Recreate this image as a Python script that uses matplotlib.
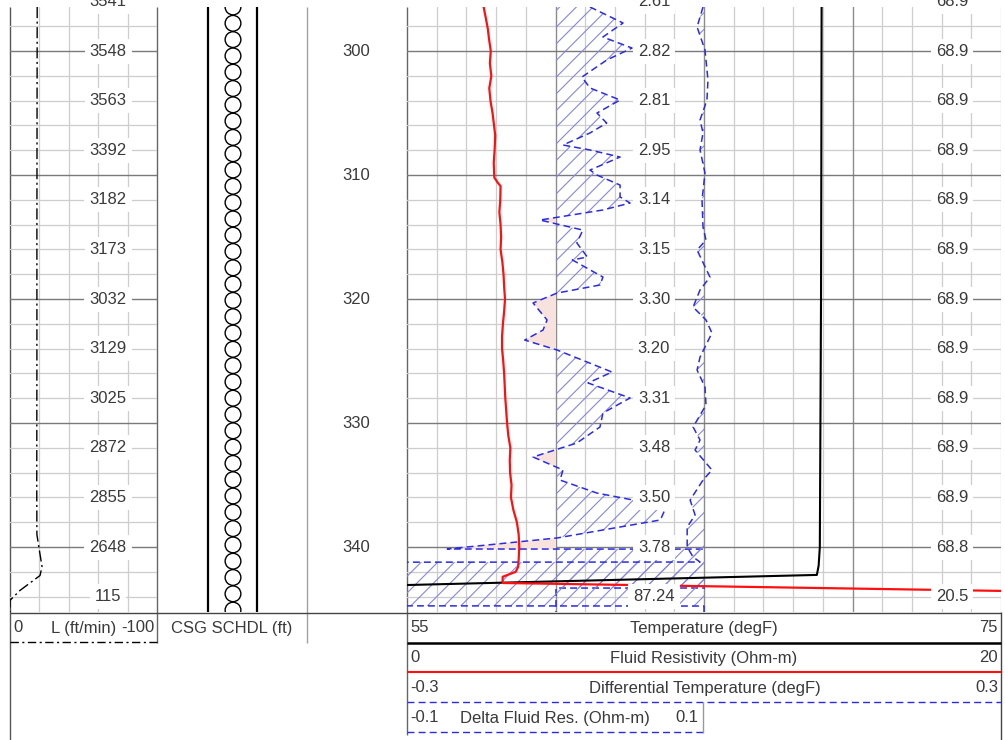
import numpy as np
import matplotlib
matplotlib.use("Agg")
import matplotlib.pyplot as plt
from matplotlib.patches import Circle

# ---------------- data ----------------
TOP, BOT = 296.45, 345.24

LSPD_DEPTH = [296.45, 305.0, 315.0, 325.0, 335.0, 339.0, 340.2, 341.6, 342.3, 343.5, 344.3, 345.3]
LSPD_VALUE = [-18.5, -18.4, -18.3, -18.3, -18.2, -18.3, -19.9, -21.8, -20.4, -6.8, 0.0, 0.0]

RES_DEPTH = [296.45, 297.3, 298.2, 299.0, 300.0, 301.0, 302.0, 303.0, 304.0, 305.0, 306.0, 306.8,
             308.0, 309.0, 310.2, 310.6, 310.9, 312.0, 313.0, 314.0, 315.0, 316.0, 317.0, 318.0,
             319.0, 320.0, 321.0, 322.0, 323.0, 324.0, 325.0, 326.0, 327.0, 328.0, 329.0, 330.0,
             331.0, 332.0, 333.0, 334.0, 335.0, 336.0, 337.0, 338.0, 339.0, 340.0, 341.0, 341.6,
             342.0, 342.4, 342.9, 346.1]
RES_VALUE = [2.58, 2.65, 2.72, 2.76, 2.82, 2.79, 2.84, 2.77, 2.81, 2.88, 2.93, 2.97,
             2.95, 2.92, 2.94, 3.05, 3.15, 3.14, 3.11, 3.15, 3.17, 3.15, 3.21, 3.25,
             3.27, 3.30, 3.27, 3.23, 3.20, 3.20, 3.24, 3.27, 3.29, 3.31, 3.34, 3.37,
             3.41, 3.48, 3.46, 3.47, 3.52, 3.50, 3.58, 3.70, 3.76, 3.78, 3.76, 3.74,
             3.66, 3.22, 3.22, 87.24]

TEMP_DEPTH = [296.45, 310.0, 320.0, 330.0, 340.0, 341.5, 342.25, 345.1]
TEMP_VALUE = [68.96, 68.95, 68.94, 68.92, 68.90, 68.86, 68.80, 20.5]

DT_DEPTH = [296.45, 298.06, 299.92, 302.34, 303.95, 305.56, 306.61, 307.98, 309.84, 312.02,
            314.19, 315.24, 316.05, 318.23, 319.27, 320.65, 321.69, 322.74, 324.68, 325.73,
            327.10, 328.55, 330.32, 331.37, 332.18, 333.79, 334.60, 336.21, 337.42, 338.39,
            340.0, 340.81, 341.21, 341.33, 344.6, 344.76, 345.3]
DT_VALUE = [-0.001, -0.007, 0.001, 0.004, 0.003, -0.004, -0.001, -0.004, 0.001, -0.002,
            -0.001, 0.002, -0.007, 0.006, -0.004, -0.011, 0.002, 0.008, -0.004, -0.007,
            0.001, 0.002, -0.011, -0.004, -0.009, 0.008, -0.001, -0.014, -0.009, -0.017,
            -0.017, -0.011, -0.004, -3.0, -3.0, 0.0, 0.0]

DFR_DEPTH = [296.45, 297.74, 298.87, 299.76, 300.73, 302.10, 302.98, 303.95, 305.00, 305.81,
             306.61, 307.58, 307.98, 308.55, 309.60, 310.00, 310.81, 311.77, 312.26, 312.82,
             313.63, 314.44, 315.48, 316.61, 316.85, 318.23, 318.87, 319.52, 320.32, 321.69,
             322.50, 323.31, 324.11, 325.89, 326.77, 327.98, 329.19, 330.32, 331.61, 332.74,
             333.79, 334.60, 335.65, 336.21, 337.02, 337.82, 339.27, 340.16, 340.32, 343.15,
             343.31, 345.3]
DFR_VALUE = [0.0228, 0.045, 0.0315, 0.051, 0.034, 0.0174, 0.0228, 0.043, 0.0275, 0.034,
             0.0228, 0.0047, 0.0228, 0.043, 0.0228, 0.0275, 0.043, 0.043, 0.0497, 0.0315,
             -0.0107, 0.018, 0.014, 0.021, 0.011, 0.0315, 0.0295, 0.0007, -0.0154, -0.006,
             -0.0087, -0.021, 0.0007, 0.0376, 0.0215, 0.0497, 0.0315, 0.0295, 0.014, -0.0154,
             0.0047, 0.0027, 0.0275, 0.0517, 0.073, 0.070, 0.0007, -0.073, 3.0, 3.0,
             0.0, 0.0]

LABEL_DEPTHS = [296, 300, 304, 308, 312, 316, 320, 324, 328, 332, 336, 340, 344]
L_LABELS = ['3541', '3548', '3563', '3392', '3182', '3173', '3032', '3129', '3025', '2872',
            '2855', '2648', '115']
RES_LABELS = ['2.61', '2.82', '2.81', '2.95', '3.14', '3.15', '3.30', '3.20', '3.31', '3.48',
              '3.50', '3.78', '87.24']
TEMP_LABELS = ['68.9', '68.9', '68.9', '68.9', '68.9', '68.9', '68.9', '68.9', '68.9', '68.9',
               '68.9', '68.8', '20.5']
DEPTH_TICKS = [300, 310, 320, 330, 340]

CSG_TOP, CSG_BOT, CSG_RING = 296.45, 346.5, 1.3145

# ---------------- figure ----------------
W, H = 1005, 740
plt.rcParams['font.family'] = ['Liberation Sans', 'DejaVu Sans']
plt.rcParams['hatch.linewidth'] = 0.8
fig = plt.figure(figsize=(W / 100, H / 100), dpi=100)
fig.patch.set_facecolor('white')

def fbox(x0, y0, x1, y1):
    return [x0 / W, 1 - y1 / H, (x1 - x0) / W, (y1 - y0) / H]

MINOR = '#cdcdcd'
MAJOR = '#7a7a7a'
TXT = '#3a3a3a'
BLUE = '#2b2be6'
HATCH = '#8585e8'
FS = 12

# frame (structure) axes in pixel coordinates
fr = fig.add_axes([0, 0, 1, 1])
fr.set_xlim(0, W)
fr.set_ylim(H, 0)
fr.set_axis_off()

def seg(x0, y0, x1, y1, **kw):
    fr.plot([x0, x1], [y0, y1], solid_capstyle='butt', **kw)

def hgrid(ax):
    for d in range(298, 346, 2):
        if d % 10 == 0:
            ax.axhline(d, color=MAJOR, lw=1.0, zorder=1)
        else:
            ax.axhline(d, color=MINOR, lw=0.9, zorder=0.5)

# track 1: line speed
ax1 = fig.add_axes(fbox(10, 7, 157, 612))
ax1.set_xlim(0, -100)
ax1.set_ylim(BOT, TOP)
ax1.set_axis_off()
hgrid(ax1)
for v in [-20, -40, -60, -80]:
    ax1.axvline(v, color=MINOR, lw=0.9, zorder=0.5)
ax1.plot(LSPD_VALUE, LSPD_DEPTH, color='black', lw=1.0,
         linestyle=(0, (8, 2.5, 1.5, 2.5)), zorder=3)

# track 2: casing schedule
ax2 = fig.add_axes(fbox(157, 7, 307, 612))
ax2.set_xlim(0, 150 / 12.4)
ax2.set_ylim(BOT, TOP)
ax2.set_axis_off()
ax2.axvline((208 - 157) / 12.4, color='black', lw=1.6)
ax2.axvline((257 - 157) / 12.4, color='black', lw=1.6)
cx = (233 - 157) / 12.4
for cy in np.arange(CSG_TOP, CSG_BOT, CSG_RING):
    ax2.add_patch(Circle((cx, cy), 0.635, fill=False, ec='black', lw=1.0))

# track 3: grid
ax3 = fig.add_axes(fbox(407, 7, 1001, 612))
ax3.set_xlim(55, 75)
ax3.set_ylim(BOT, TOP)
ax3.set_axis_off()
hgrid(ax3)
for v in range(56, 76):
    if v in (60, 65, 70):
        ax3.axvline(v, color='#8c8c8c', lw=1.0, zorder=0.8)
    else:
        ax3.axvline(v, color=MINOR, lw=0.9, zorder=0.5)

# delta fluid resistivity (left half)
axf = fig.add_axes(fbox(407, 7, 705, 612))
axf.set_xlim(-0.1, 0.1)
axf.set_ylim(BOT, TOP)
axf.set_axis_off()
dfr_d = np.array(DFR_DEPTH)
dfr_v = np.array(DFR_VALUE)
axf.fill_betweenx(dfr_d, 0, dfr_v, where=dfr_v < 0, interpolate=True,
                  facecolor='#f8e2dd', edgecolor='none', lw=0)
axf.fill_betweenx(dfr_d, 0, dfr_v, where=dfr_v > 0, interpolate=True,
                  facecolor='none', edgecolor=HATCH, hatch='//', lw=0)
axf.plot(dfr_v, dfr_d, color=BLUE, lw=1.1, linestyle=(0, (4.5, 2.7)), zorder=3)

# differential temperature
axd = fig.add_axes(fbox(407, 7, 1001, 612))
axd.set_xlim(-0.3, 0.3)
axd.set_ylim(BOT, TOP)
axd.set_axis_off()
dt_d = np.array(DT_DEPTH)
dt_v = np.array(DT_VALUE)
axd.fill_betweenx(dt_d, 0, dt_v, where=dt_v < 0, interpolate=True,
                  facecolor='none', edgecolor=HATCH, hatch='//', lw=0)
axd.plot(dt_v, dt_d, color=BLUE, lw=1.1, linestyle=(0, (4.5, 2.7)), zorder=3)

# temperature
axt = fig.add_axes(fbox(407, 7, 1001, 612))
axt.set_xlim(55, 75)
axt.set_ylim(BOT, TOP)
axt.set_axis_off()
axt.plot(TEMP_VALUE, TEMP_DEPTH, color='black', lw=1.5)

# fluid resistivity
axr = fig.add_axes(fbox(407, 7, 1001, 612))
axr.set_xlim(0, 20)
axr.set_ylim(BOT, TOP)
axr.set_axis_off()
axr.plot(RES_VALUE, RES_DEPTH, color='#ff1010', lw=1.6)

# labels on top (x in pixel layout coordinates, y in depth)
axl = fig.add_axes(fbox(0, 7, W, 612))
axl.set_xlim(0, W)
axl.set_ylim(BOT, TOP)
axl.set_axis_off()
bb = dict(boxstyle='square,pad=0.3', fc='white', ec='none')
for d, a, b, c in zip(LABEL_DEPTHS, L_LABELS, RES_LABELS, TEMP_LABELS):
    axl.text(108, d, a, ha='center', va='center', fontsize=FS, color=TXT, bbox=bb, zorder=5)
    axl.text(654, d, b, ha='center', va='center', fontsize=FS, color=TXT, bbox=bb, zorder=5)
    axl.text(952, d, c, ha='center', va='center', fontsize=FS, color=TXT, bbox=bb, zorder=5)
for d in DEPTH_TICKS:
    axl.text(356, d, str(d), ha='center', va='center', fontsize=FS, color=TXT)

# ---------------- borders and header ----------------
seg(10, 7, 10, 740, color='#555555', lw=1.0)
seg(157, 7, 157, 643, color='#666666', lw=1.0)
seg(307, 7, 307, 643, color='#a0a0a0', lw=1.0)
seg(407, 7, 407, 735, color='#666666', lw=1.0)
seg(1001, 612, 1001, 740, color='#444444', lw=1.0)
seg(10, 612.5, 1001, 612.5, color='#444444', lw=1.0)

seg(10, 642, 157, 642, color='black', lw=1.0, linestyle=(0, (6, 2.5, 1.5, 2.5)))
seg(407, 643, 1001, 643, color='black', lw=1.8)
seg(407, 672, 1001, 672, color='#ff1010', lw=1.5)
seg(407, 702, 1001, 702, color=BLUE, lw=1.0, linestyle=(0, (5, 3)))
seg(407, 732, 703, 732, color=BLUE, lw=1.0, linestyle=(0, (5, 3)))
seg(703, 702, 703, 733, color='#999999', lw=1.0)

def htxt(x, y, s, ha):
    fr.text(x, y, s, ha=ha, va='center', fontsize=FS, color=TXT)

htxt(13, 628, '0', 'left')
htxt(84, 628, 'L (ft/min)', 'center')
htxt(154, 628, '-100', 'right')
htxt(232, 628, 'CSG SCHDL (ft)', 'center')

htxt(410, 628, '55', 'left')
htxt(704, 628, 'Temperature (degF)', 'center')
htxt(998, 628, '75', 'right')

htxt(410, 658, '0', 'left')
htxt(704, 658, 'Fluid Resistivity (Ohm-m)', 'center')
htxt(998, 658, '20', 'right')

htxt(410, 688, '-0.3', 'left')
htxt(705, 688, 'Differential Temperature (degF)', 'center')
htxt(998, 688, '0.3', 'right')

htxt(410, 718, '-0.1', 'left')
htxt(555, 718, 'Delta Fluid Res. (Ohm-m)', 'center')
htxt(698, 718, '0.1', 'right')

fig.savefig('out.png', dpi=100, facecolor='white')
